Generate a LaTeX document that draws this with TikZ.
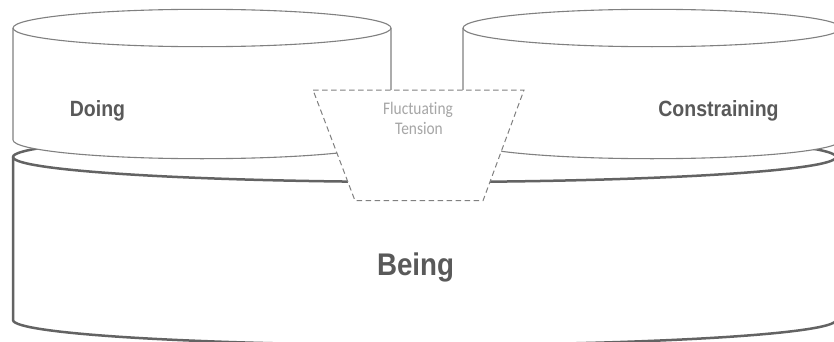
\documentclass[tikz,border=0pt]{standalone}
\usepackage{fontspec}
\setmainfont{Liberation Sans}
\newfontfamily\labelfont[Ligatures=CommonOff]{Carlito}
\definecolor{textgray}{HTML}{595959}
\definecolor{lightgray}{HTML}{A6A6A6}
\definecolor{rimgray}{HTML}{808080}
\definecolor{basegray}{HTML}{636363}
\begin{document}
\begin{tikzpicture}[x=1pt,y=1pt,
  thincyl/.style={draw=rimgray,line width=1.1pt,fill=white},
  thickcyl/.style={draw=basegray,line width=2.5pt,fill=white},
  tensionbox/.style={draw=rimgray,line width=1pt,dash pattern=on 5.5pt off 3.5pt,fill=white},
  biglabel/.style={font=\bfseries\fontsize{19.5}{23}\selectfont,text=textgray,inner sep=0pt,anchor=base,yscale=1.13},
  hugelabel/.style={font=\bfseries\fontsize{27.7}{32}\selectfont,text=textgray,inner sep=0pt,anchor=base,yscale=1.13},
  smalllabel/.style={font=\labelfont\fontsize{15.4}{18}\selectfont,text=lightgray,inner sep=0pt,anchor=base,yscale=1.15}]
\useasboundingbox (0,0) rectangle (834,341);
\clip (0,0) rectangle (834,341);

% Being: the wide base cylinder
\draw[thickcyl] (13,21) -- (13,184)
  arc[start angle=180,end angle=0,x radius=411.5,y radius=25] -- (836,21)
  arc[start angle=0,end angle=-180,x radius=411.5,y radius=25] -- cycle;
\draw[thickcyl,fill=none] (13,184) arc[start angle=180,end angle=360,x radius=411.5,y radius=25];

% Doing: left upper cylinder
\draw[thincyl] (13,201) -- (13,313)
  arc[start angle=180,end angle=0,x radius=189,y radius=18.7] -- (391,201)
  arc[start angle=0,end angle=-180,x radius=189,y radius=18.7] -- cycle;
\draw[thincyl,fill=none] (13,313) arc[start angle=180,end angle=360,x radius=189,y radius=18.7];

% Constraining: right upper cylinder
\draw[thincyl] (463,201) -- (463,313)
  arc[start angle=180,end angle=0,x radius=189,y radius=18.7] -- (841,201)
  arc[start angle=0,end angle=-180,x radius=189,y radius=18.7] -- cycle;
\draw[thincyl,fill=none] (463,313) arc[start angle=180,end angle=360,x radius=189,y radius=18.7];

% Fluctuating tension: dashed trapezoid between the two cylinders
\draw[tensionbox] (313,251) -- (524,251) -- (483,140.3) -- (355,140.3) -- cycle;

% Labels
\node[biglabel] (doing) at (97.5,224.5) {Doing};
\node[biglabel] (constraining) at (718.5,225) {Constraining};
\node[hugelabel] (being) at (415.5,65.3) {Being};
\node[smalllabel] (fluct) at (418,227) {Fluctuating};
\node[smalllabel] (tens) at (419,207) {Tension};
\end{tikzpicture}
\end{document}
